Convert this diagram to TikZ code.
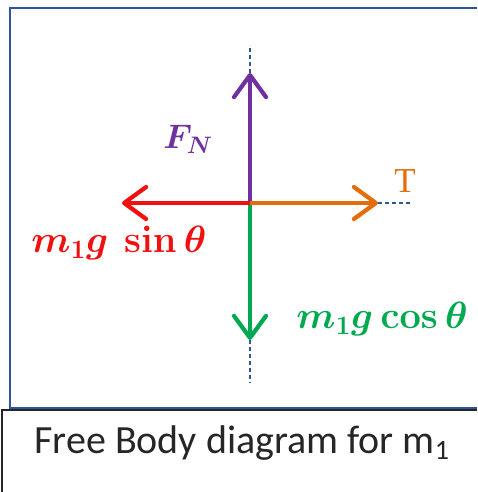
\documentclass[tikz,border=0pt]{standalone}
\usepackage{fix-cm}
\usepackage[no-math]{fontspec}
\setmainfont{Carlito}
\newfontfamily\serifT{Liberation Serif}
\usepackage{amsmath}
\usetikzlibrary{arrows.meta}
\definecolor{fbpurple}{HTML}{7030A0}
\definecolor{fbred}{HTML}{F01010}
\definecolor{fborange}{HTML}{E46C0A}
\definecolor{fbgreen}{HTML}{00A850}
\definecolor{fbblue}{HTML}{2F5597}
\definecolor{fbtext}{HTML}{262626}
\tikzset{
  x=1pt, y=-1pt,
  force/.style={line width=4.2pt, -{Straight Barb[length=22pt,width=32pt,round]}},
  guide/.style={draw=fbblue, line width=1.3pt, dash pattern=on 4pt off 3pt},
  mlabel/.style={inner sep=0pt, font=\fontsize{38}{42}\selectfont\boldmath},
}
\begin{document}
\begin{tikzpicture}
\useasboundingbox (0,0) rectangle (477,492);
\fill[white] (0,0) rectangle (477,492);
\draw[draw=fbblue, line width=2.5pt] (477,8) -- (10,8) -- (10,408) -- (477,408);
\draw[draw=fbtext, line width=1.5pt] (477,410) -- (2,410) -- (2,492);
\coordinate (o) at (250,203);
\coordinate (up) at (250,73);
\coordinate (upd) at (250,45);
\coordinate (rt) at (378,203);
\coordinate (rtd) at (411,203);
\coordinate (lt) at (122,203);
\coordinate (dn) at (250,340);
\coordinate (dnd) at (250,383);
\draw[guide] (up) -- (upd);
\draw[guide] (rt) -- (rtd);
\draw[guide] (dn) -- (dnd);
\draw[force, fbgreen] (o) -- (dn);
\draw[force, fbpurple] (o) -- (up);
\draw[force, fbred] (o) -- (lt);
\draw[force, fborange] (o) -- (rt);
\node[inner sep=0pt, text=fbpurple, font=\fontsize{34}{38}\selectfont\boldmath] (fn) at (188,139) {$F_N$};
\node[inner sep=0pt, text=fborange, font=\fontsize{35}{37}\selectfont\serifT] (t) at (405,181) {T};
\node[mlabel, text=fbred] (sin) at (119,243) {$m_1g\ \sin\theta$};
\node[mlabel, text=fbgreen] (cos) at (382,319) {$m_1g\cos\theta$};
\node[inner sep=0pt, text=fbtext, font=\fontsize{40}{44}\selectfont] (cap) at (242,443) {Free Body diagram for m\textsubscript{1}};
\end{tikzpicture}
\end{document}
